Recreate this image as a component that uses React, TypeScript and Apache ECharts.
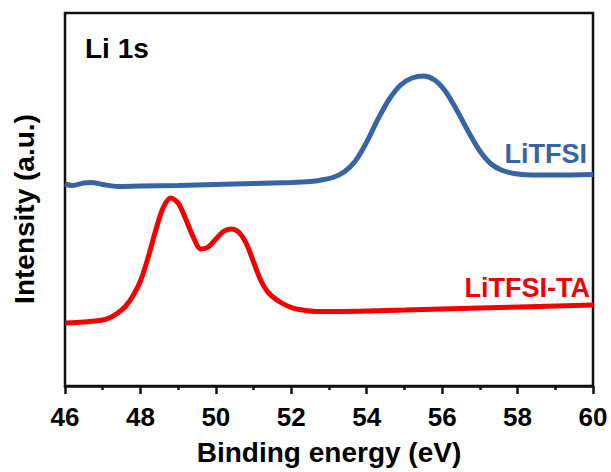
import React, { useEffect, useRef } from "react";
import * as echarts from "echarts";

const xTicks = [46, 48, 50, 52, 54, 56, 58, 60];

const litfsiEnergy = [46.0, 46.2, 46.5, 46.7, 47.0, 47.4, 48, 49, 50, 51, 52, 52.5, 52.8, 53.1, 53.4, 53.7, 54.0, 54.3, 54.6, 54.9, 55.2, 55.5, 55.8, 56.1, 56.4, 56.7, 57.0, 57.3, 57.6, 58.0, 58.5, 59.0, 60.0];
const litfsiIntensity = [202, 200.5, 203, 203.5, 201.5, 199.5, 200, 200.5, 201.5, 202.5, 203.5, 204.5, 206, 208.5, 214, 225, 244, 267, 287, 301, 308, 310, 306, 294, 275, 254, 235, 222, 215.5, 212, 211, 211, 211.5];

const taEnergy = [46, 46.5, 47, 47.2, 47.4, 47.6, 47.8, 48.0, 48.2, 48.4, 48.6, 48.8, 49.0, 49.2, 49.4, 49.6, 49.8, 50.0, 50.2, 50.4, 50.6, 50.8, 51.0, 51.2, 51.4, 51.7, 52.0, 52.3, 52.7, 53.0, 55.0, 57.0, 60.0];
const taIntensity = [63, 64, 66, 68.5, 73, 79.5, 90, 105, 128, 155, 178, 188, 183, 167, 149, 137, 139, 147, 154.5, 157, 154, 143, 124, 105, 93, 84, 78.5, 76, 74.5, 74.5, 76, 78, 81];

const seriesNames = ["LiTFSI", "LiTFSI-TA"];
const BLUE = "#3765a3";
const RED = "#f50000";
const FONT = "'Liberation Sans', Arial, sans-serif";

export default function App() {
  const ref = useRef<HTMLDivElement>(null);
  useEffect(() => {
    if (!ref.current) return;
    document.body.style.margin = "0";
    const chart = echarts.init(ref.current, null, { renderer: "svg" });
    chart.setOption({
      animation: false,
      backgroundColor: "#ffffff",
      grid: {
        left: 65,
        right: 18,
        top: 13,
        bottom: 86,
        show: true,
        borderColor: "#111",
        borderWidth: 2.5,
        containLabel: false,
      },
      xAxis: {
        type: "value",
        min: 46,
        max: 60,
        interval: 2,
        axisLine: { show: true, onZero: false, lineStyle: { color: "#111", width: 2.5 } },
        axisTick: { show: true, inside: false, length: 8, lineStyle: { color: "#111", width: 2.5 } },
        minorTick: { show: true, splitNumber: 2, length: 4, lineStyle: { color: "#111", width: 2.5 } },
        splitLine: { show: false },
        axisLabel: {
          show: true,
          margin: 18,
          color: "#000",
          fontFamily: FONT,
          fontWeight: "bold",
          fontSize: 26,
          formatter: (v: number) => (xTicks.includes(v) ? String(v) : ""),
        },
        name: "Binding energy (eV)",
        nameLocation: "middle",
        nameGap: 52,
        nameTextStyle: { color: "#000", fontFamily: FONT, fontWeight: "bold", fontSize: 28 },
      },
      yAxis: {
        type: "value",
        min: 0,
        max: 373,
        axisLine: { show: false },
        axisTick: { show: false },
        axisLabel: { show: false },
        splitLine: { show: false },
      },
      series: [
        {
          name: seriesNames[0],
          type: "line",
          data: litfsiEnergy.map((x, i) => [x, litfsiIntensity[i]]),
          smooth: 0.3,
          showSymbol: false,
          lineStyle: { color: BLUE, width: 5 },
        },
        {
          name: seriesNames[1],
          type: "line",
          data: taEnergy.map((x, i) => [x, taIntensity[i]]),
          smooth: 0.3,
          showSymbol: false,
          lineStyle: { color: RED, width: 5 },
        },
      ],
      graphic: [
        {
          type: "text",
          x: 85,
          y: 48,
          style: { text: "Li 1s", fill: "#000", font: `bold 28px ${FONT}`, textAlign: "left", textVerticalAlign: "middle" },
        },
        {
          type: "text",
          x: 587,
          y: 154,
          style: { text: seriesNames[0], fill: BLUE, font: `bold 27px ${FONT}`, textAlign: "right", textVerticalAlign: "middle" },
        },
        {
          type: "text",
          x: 590,
          y: 288,
          style: { text: seriesNames[1], fill: RED, font: `bold 27px ${FONT}`, textAlign: "right", textVerticalAlign: "middle" },
        },
        {
          type: "text",
          x: 24,
          y: 209,
          rotation: Math.PI / 2,
          style: { text: "Intensity (a.u.)", fill: "#000", font: `bold 28px ${FONT}`, textAlign: "center", textVerticalAlign: "middle" },
        },
      ],
    });
    return () => chart.dispose();
  }, []);
  return <div ref={ref} style={{ width: 611, height: 472 }} />;
}
